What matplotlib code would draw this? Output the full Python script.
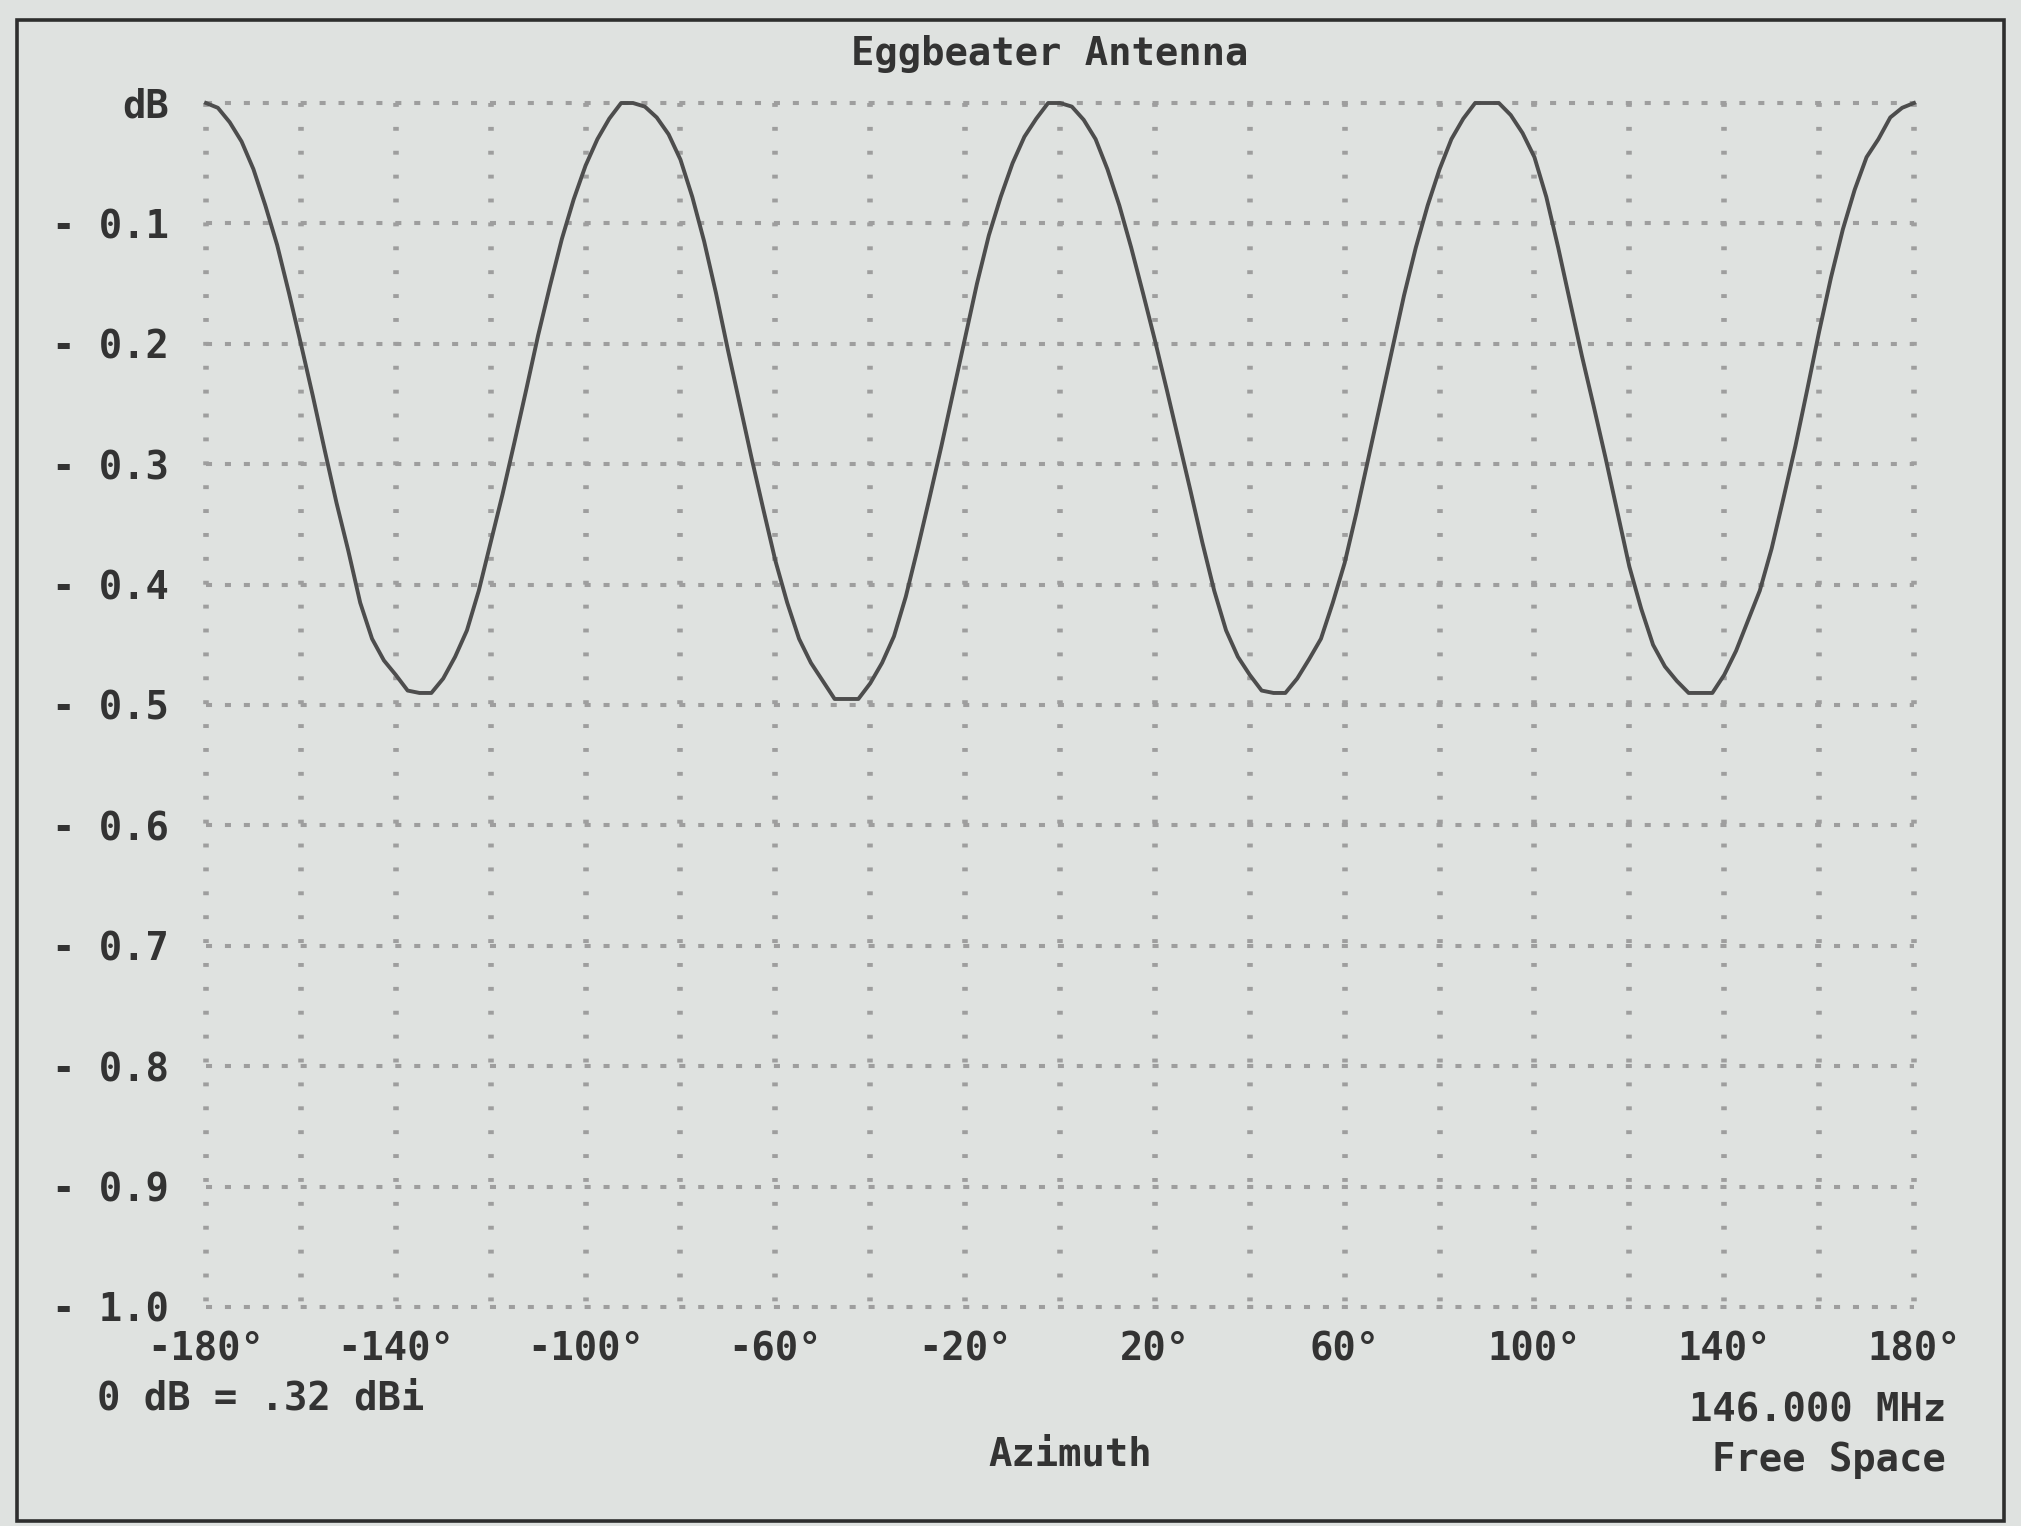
import numpy as np
import matplotlib
matplotlib.use("Agg")
import matplotlib.pyplot as plt
from matplotlib.patches import Rectangle

# ---- data (azimuth every 2.5 degrees) ----
azimuth_deg = np.arange(-180.0, 180.01, 2.5)
gain_db = [
    # -180 .. -90
    0.0, -0.004, -0.016, -0.032, -0.055, -0.085, -0.118, -0.158, -0.2,
    -0.243, -0.288, -0.332, -0.372, -0.415, -0.445, -0.463, -0.475, -0.488,
    -0.49, -0.49, -0.478, -0.46, -0.438, -0.405, -0.365, -0.325, -0.282,
    -0.238, -0.193, -0.152, -0.113, -0.08, -0.052, -0.03, -0.013, 0.0, 0.0,
    # -87.5 .. 0
    -0.003, -0.012, -0.026, -0.047, -0.078, -0.115, -0.158, -0.205, -0.25,
    -0.295, -0.338, -0.38, -0.415, -0.445, -0.465, -0.48, -0.495, -0.495,
    -0.495, -0.482, -0.465, -0.443, -0.41, -0.37, -0.328, -0.285, -0.24,
    -0.195, -0.15, -0.11, -0.078, -0.05, -0.028, -0.013, 0.0, 0.0,
    # 2.5 .. 90
    -0.003, -0.014, -0.03, -0.055, -0.085, -0.12, -0.158, -0.197, -0.238,
    -0.28, -0.322, -0.365, -0.405, -0.438, -0.46, -0.475, -0.488, -0.49,
    -0.49, -0.478, -0.462, -0.445, -0.415, -0.382, -0.34, -0.295, -0.25,
    -0.205, -0.16, -0.12, -0.085, -0.055, -0.03, -0.013, 0.0, 0.0,
    # 92.5 .. 180
    0.0, -0.01, -0.025, -0.045, -0.078, -0.12, -0.165, -0.21, -0.252,
    -0.295, -0.34, -0.385, -0.42, -0.45, -0.468, -0.48, -0.49, -0.49,
    -0.49, -0.475, -0.455, -0.43, -0.405, -0.37, -0.328, -0.285, -0.238,
    -0.19, -0.145, -0.105, -0.072, -0.045, -0.03, -0.012, -0.004, 0.0,
]
x_ticks = [-180, -140, -100, -60, -20, 20, 60, 100, 140, 180]
x_tick_labels = ["-180°", "-140°", "-100°", "-60°", "-20°", "20°", "60°", "100°", "140°", "180°"]
y_ticks = [0.0, -0.1, -0.2, -0.3, -0.4, -0.5, -0.6, -0.7, -0.8, -0.9, -1.0]
y_tick_labels = ["dB", "- 0.1", "- 0.2", "- 0.3", "- 0.4", "- 0.5", "- 0.6",
                 "- 0.7", "- 0.8", "- 0.9", "- 1.0"]
x_grid = list(range(-180, 181, 20))

title = "Eggbeater Antenna"
xlabel = "Azimuth"
note_left = "0 dB = .32 dBi"
note_freq = "146.000 MHz"
note_env = "Free Space"

# ---- style ----
W, H = 2021, 1526
bg = "#dfe2e0"
txt = "#333333"
font = dict(family="DejaVu Sans Mono", weight="bold", color=txt)
fs = 28

fig = plt.figure(figsize=(W / 100, H / 100), dpi=100, facecolor=bg)

# outer frame
fig.add_artist(Rectangle((17 / W, 1 - 1521 / H), (2004 - 17) / W, (1521 - 20) / H,
                         transform=fig.transFigure, fill=False,
                         edgecolor="#2e2e2e", linewidth=2.6))

ax = fig.add_axes([206 / W, 1 - 1307 / H, (1914 - 206) / W, (1307 - 103) / H])
ax.set_facecolor(bg)
ax.set_xlim(-180, 180)
ax.set_ylim(-1.0, 0.0)
for s in ax.spines.values():
    s.set_visible(False)

hgrid_kw = dict(color="#9e9e9e", linewidth=2.9, linestyle=(0, (1.5, 3.2)),
                solid_capstyle="butt", dash_capstyle="butt", clip_on=False, zorder=1)
vgrid_kw = dict(color="#9e9e9e", linewidth=4.0, linestyle=(0, (0.7, 3.6)),
                solid_capstyle="butt", dash_capstyle="butt", clip_on=False, zorder=1)
for yv in y_ticks:
    ax.plot([-180, 180], [yv, yv], **hgrid_kw)
for xv in x_grid:
    ax.plot([xv, xv], [0.0, -1.0], **vgrid_kw)

ax.plot(azimuth_deg, gain_db, color="#4d4d4d", linewidth=2.8, clip_on=False, zorder=3)

ax.set_xticks(x_ticks)
ax.set_xticklabels(x_tick_labels)
ax.set_yticks(y_ticks)
ax.set_yticklabels(y_tick_labels)
ax.tick_params(axis="both", length=0)
ax.tick_params(axis="x", pad=17)
ax.tick_params(axis="y", pad=27)
for lab in ax.get_xticklabels() + ax.get_yticklabels():
    lab.set_fontfamily("DejaVu Sans Mono")
    lab.set_fontweight("bold")
    lab.set_fontsize(fs)
    lab.set_color(txt)

fig.text(1050 / W, 1 - 54 / H, title, ha="center", va="center", fontsize=fs, **font)
fig.text(97 / W, 1 - 1398 / H, note_left, ha="left", va="center", fontsize=fs, **font)
fig.text(1070 / W, 1 - 1454 / H, xlabel, ha="center", va="center", fontsize=fs, **font)
fig.text(1946 / W, 1 - 1411 / H, note_freq, ha="right", va="center", fontsize=fs, **font)
fig.text(1946 / W, 1 - 1460 / H, note_env, ha="right", va="center", fontsize=fs, **font)

fig.savefig("out.png", dpi=100, facecolor=bg)
